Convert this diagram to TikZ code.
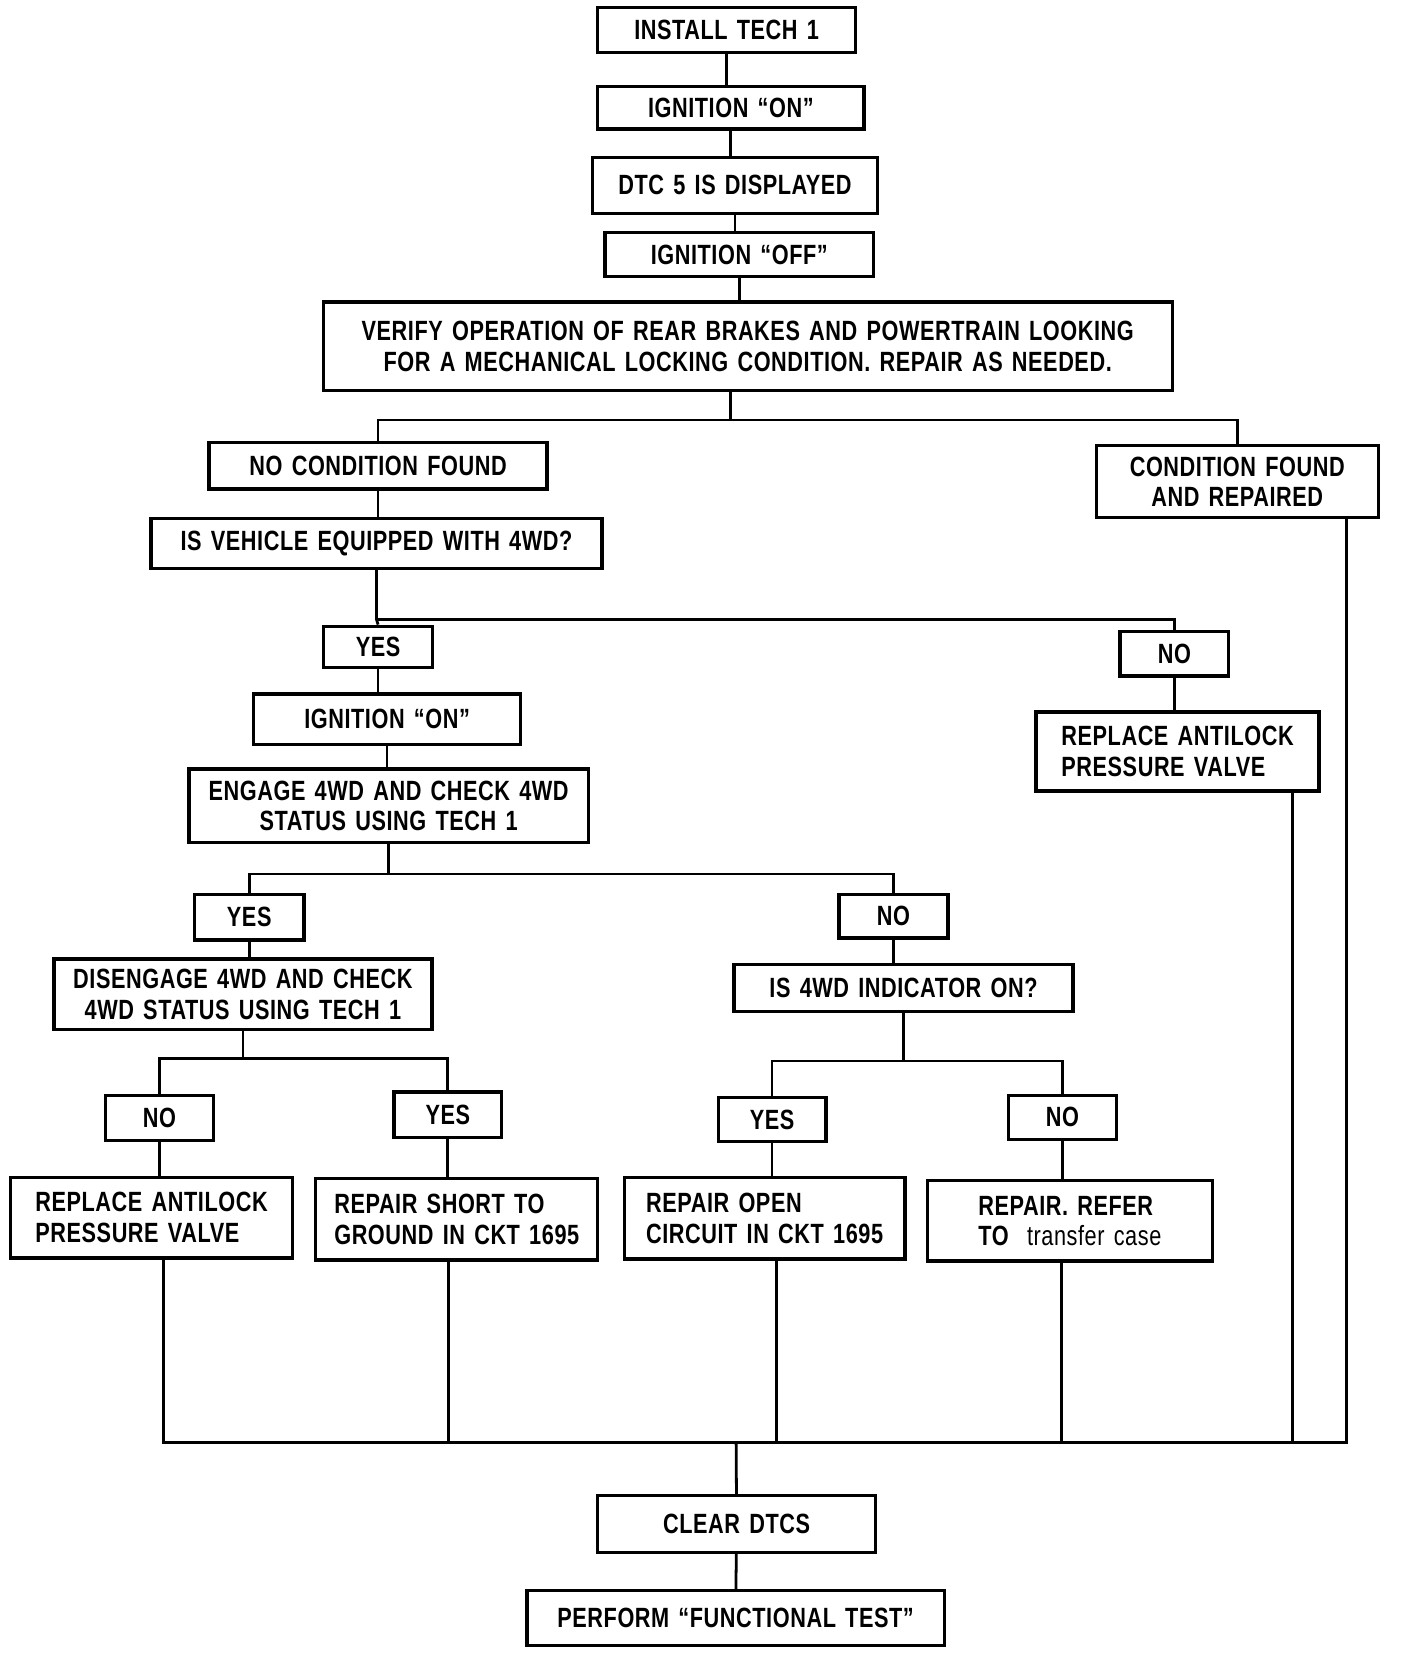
\documentclass[tikz,border=0pt]{standalone}
\usepackage{fontspec}
\setmainfont{Liberation Sans}[FakeStretch=0.78, LetterSpace=2, WordSpace=1.4]
\usetikzlibrary{positioning}

\tikzset{
  box/.style={draw, line width=1.8pt, inner sep=0pt, align=center,
              font=\fontsize{15}{16.5}\selectfont\bfseries},
  boxl/.style={box, align=left},
  sz/.style 2 args={minimum width=#1*0.02cm, minimum height=#2*0.02cm},
  link/.style={line width=1.5pt}
}

\begin{document}
\begin{tikzpicture}[x=0.02cm, y=-0.02cm]
  \useasboundingbox (0,0) rectangle (1333,1568);

  % main column
  \node[box, sz={244}{43}] (install) at (688,28.5) {INSTALL TECH 1};
  \node[box, sz={252}{40}] (ignon) at (692,102) {IGNITION ``ON''};
  \node[box, sz={270}{53}] (dtc) at (696,175.5) {DTC 5 IS DISPLAYED};
  \node[box, sz={254}{42}] (ignoff) at (700,241) {IGNITION ``OFF''};
  \node[box, sz={804}{84}] (verify) at (708,328)
    {VERIFY OPERATION OF REAR BRAKES AND POWERTRAIN LOOKING\\
     FOR A MECHANICAL LOCKING CONDITION. REPAIR AS NEEDED.};

  \node[box, sz={320}{44}] (nocond) at (358,441) {NO CONDITION FOUND};
  \node[box, sz={267}{68}] (condfound) at (1171.5,456) {CONDITION FOUND\\AND REPAIRED};
  \node[box, sz={427}{47}] (equip) at (356.5,514.5) {IS VEHICLE EQUIPPED WITH 4WD?};

  % 4WD branch
  \node[box, sz={103}{39}] (yesfour) at (358,612.5) {YES};
  \node[box, sz={103}{42}] (nofour) at (1112,619) {NO};
  \node[box, sz={253}{48}] (ignontwo) at (366.5,681) {IGNITION ``ON''};
  \node[boxl, sz={268}{75}] (replaceright) at (1115,711.5) {REPLACE ANTILOCK\\PRESSURE VALVE};
  \node[box, sz={378}{70}] (engage) at (368,763) {ENGAGE 4WD AND CHECK 4WD\\STATUS USING TECH 1};

  \node[box, sz={104}{43}] (yesengage) at (236,868.5) {YES};
  \node[box, sz={103}{41}] (noengage) at (846,867.5) {NO};
  \node[box, sz={358}{67}] (disengage) at (230,941.5) {DISENGAGE 4WD AND CHECK\\4WD STATUS USING TECH 1};
  \node[box, sz={321}{45}] (indicator) at (855.5,935.5) {IS 4WD INDICATOR ON?};

  \node[box, sz={102}{43}] (nodis) at (151,1058.5) {NO};
  \node[box, sz={102}{43}] (yesdis) at (424,1055.5) {YES};
  \node[box, sz={102}{42}] (yesind) at (731,1060) {YES};
  \node[box, sz={102}{42}] (noind) at (1006,1058) {NO};

  \node[boxl, sz={267}{76}] (replaceleft) at (143.5,1153) {REPLACE ANTILOCK\\PRESSURE VALVE};
  \node[boxl, sz={267}{77}] (short) at (432.5,1154.5) {REPAIR SHORT TO\\GROUND IN CKT 1695};
  \node[boxl, sz={266}{77}] (open) at (724,1153.5) {REPAIR OPEN\\CIRCUIT IN CKT 1695};
  \node[boxl, sz={270}{76}] (refer) at (1013,1156) {REPAIR. REFER\\TO\ \ \mdseries transfer case};

  % end
  \coordinate (bus) at (697,1366);
  \node[box, sz={263}{54}] (clear) at (697.5,1443) {CLEAR DTCS};
  \node[box, sz={395}{52}] (perform) at (696.5,1532) {PERFORM ``FUNCTIONAL TEST''};

  % connectors
  \draw[link] (install) -- (install |- ignon.north);
  \draw[link] (ignon) -- (ignon |- dtc.north);
  \draw[link] (dtc) -- (dtc |- ignoff.north);
  \draw[link] (ignoff) -- (ignoff |- verify.north);
  \draw[link] ([xshift=-0.32cm]verify.south) -- ++(0,26) coordinate (split) -| (nocond.north);
  \draw[link] (split) -| (condfound.north);
  \draw[link] (nocond) -- (nocond |- equip.north);

  \draw[link] (equip.south) -- ++(0,47) coordinate (splitfour) -- (yesfour.north);
  \draw[link] (splitfour) -| (nofour.north);
  \draw[link] (yesfour) -- (yesfour |- ignontwo.north);
  \draw[link] (ignontwo) -- (ignontwo |- engage.north);
  \draw[link] (nofour) -- (nofour |- replaceright.north);

  \draw[link] (engage.south) -- ++(0,28) coordinate (splitengage) -| (yesengage.north);
  \draw[link] (splitengage) -| (noengage.north);
  \draw[link] (yesengage) -- (yesengage |- disengage.north);
  \draw[link] (noengage) -- (noengage |- indicator.north);

  \draw[link] (disengage.south) -- ++(0,26) coordinate (splitdis) -| (nodis.north);
  \draw[link] (splitdis) -| (yesdis.north);
  \draw[link] (indicator.south) -- ++(0,45) coordinate (splitind) -| (yesind.north);
  \draw[link] (splitind) -| (noind.north);

  \draw[link] (nodis) -- (nodis |- replaceleft.north);
  \draw[link] (yesdis) -- (yesdis |- short.north);
  \draw[link] (yesind) -- (yesind |- open.north);
  \draw[link] (noind) -- (noind |- refer.north);

  \draw[link] ([xshift=0.23cm]replaceleft.south) |- (bus);
  \draw[link] ([xshift=-0.15cm]short.south) |- (bus);
  \draw[link] ([xshift=0.22cm]open.south) |- (bus);
  \draw[link] ([xshift=-0.16cm]refer.south) |- (bus);
  \draw[link] ([xshift=-0.54cm]replaceright.south east) |- (bus);
  \draw[link] ([xshift=-0.64cm]condfound.south east) |- (bus);
  \draw[link] (bus) -- (clear);
  \draw[link] (clear) -- (perform);
\end{tikzpicture}
\end{document}
